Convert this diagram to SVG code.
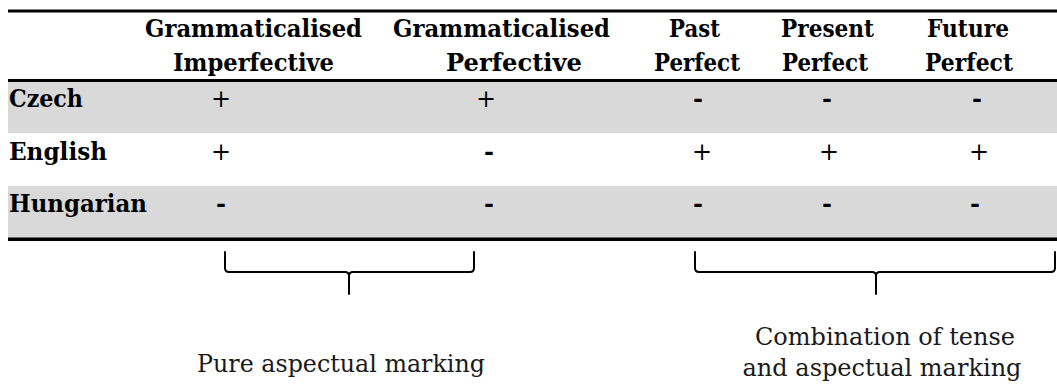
<svg xmlns="http://www.w3.org/2000/svg" width="1057" height="385" viewBox="0 0 1057 385">
<style>
.h{font-family:"DejaVu Serif","Liberation Serif",serif;font-weight:bold;font-size:25px;fill:#000}
.c{font-family:"DejaVu Serif","Liberation Serif",serif;font-size:24px;fill:#000;text-anchor:middle}
.d{font-family:"DejaVu Serif","Liberation Serif",serif;font-weight:bold;font-size:24px;fill:#000;text-anchor:middle}
.t{font-family:"DejaVu Serif","Liberation Serif",serif;font-size:25px;fill:#1a1a1a;text-anchor:middle}
.band{fill:#d9d9d9}
.rule{fill:#000}
.brace{fill:none;stroke:#000;stroke-width:2;stroke-linecap:round;stroke-linejoin:round}
</style>
<g id="table">
<rect class="band" x="8" y="82" width="1049" height="51"/>
<rect class="band" x="8" y="186" width="1049" height="52"/>
<rect class="rule" x="8" y="9.5" width="1049" height="3"/>
<rect class="rule" x="8" y="79" width="1049" height="3"/>
<rect class="rule" x="8" y="237.5" width="1049" height="3.5"/>
</g>
<g id="header">
<text class="h" x="145" y="37" textLength="217" lengthAdjust="spacingAndGlyphs">Grammaticalised</text>
<text class="h" x="173" y="71" textLength="161" lengthAdjust="spacingAndGlyphs">Imperfective</text>
<text class="h" x="393" y="37" textLength="217" lengthAdjust="spacingAndGlyphs">Grammaticalised</text>
<text class="h" x="446" y="71" textLength="136" lengthAdjust="spacingAndGlyphs">Perfective</text>
<text class="h" x="669" y="37" textLength="51" lengthAdjust="spacingAndGlyphs">Past</text>
<text class="h" x="654" y="71" textLength="86" lengthAdjust="spacingAndGlyphs">Perfect</text>
<text class="h" x="781" y="37" textLength="93" lengthAdjust="spacingAndGlyphs">Present</text>
<text class="h" x="782" y="71" textLength="86" lengthAdjust="spacingAndGlyphs">Perfect</text>
<text class="h" x="927" y="37" textLength="82" lengthAdjust="spacingAndGlyphs">Future</text>
<text class="h" x="925" y="71" textLength="88" lengthAdjust="spacingAndGlyphs">Perfect</text>
</g>
<g id="row-czech">
<text class="h" x="9" y="107" textLength="74" lengthAdjust="spacingAndGlyphs">Czech</text>
<text class="c" x="221" y="107">+</text>
<text class="c" x="486" y="107">+</text>
<text class="d" x="698" y="107">-</text>
<text class="d" x="827" y="107">-</text>
<text class="d" x="977" y="107">-</text>
</g>
<g id="row-english">
<text class="h" x="9" y="160" textLength="98" lengthAdjust="spacingAndGlyphs">English</text>
<text class="c" x="221" y="160">+</text>
<text class="d" x="489" y="160">-</text>
<text class="c" x="702" y="160">+</text>
<text class="c" x="829" y="160">+</text>
<text class="c" x="979" y="160">+</text>
</g>
<g id="row-hungarian">
<text class="h" x="9" y="212" textLength="138" lengthAdjust="spacingAndGlyphs">Hungarian</text>
<text class="d" x="221" y="212">-</text>
<text class="d" x="489" y="212">-</text>
<text class="d" x="698" y="212">-</text>
<text class="d" x="827" y="212">-</text>
<text class="d" x="975" y="212">-</text>
</g>
<g id="connectors">
<path class="brace" d="M225,252 L225,268 Q225,272 229,272 L345,272 Q349,272 349,276 L349,294 M349,276 Q349,272 353,272 L470,272 Q474,272 474,268 L474,252"/>
<path class="brace" d="M695,252 L695,268 Q695,272 699,272 L872,272 Q876,272 876,276 L876,294 M876,276 Q876,272 880,272 L1051,272 Q1055,272 1055,268 L1055,252"/>
</g>
<g id="label-pure">
<text class="t" x="341" y="372" textLength="288" lengthAdjust="spacingAndGlyphs">Pure aspectual marking</text>
</g>
<g id="label-combination">
<text class="t" x="885" y="345" textLength="260" lengthAdjust="spacingAndGlyphs">Combination of tense</text>
<text class="t" x="882" y="376" textLength="279" lengthAdjust="spacingAndGlyphs">and aspectual marking</text>
</g>
</svg>
